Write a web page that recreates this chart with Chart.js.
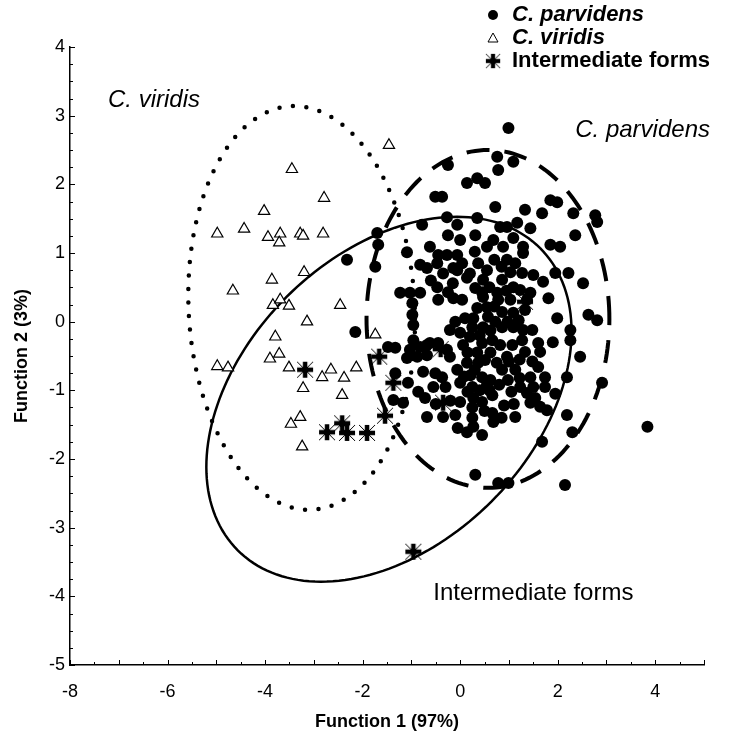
<!DOCTYPE html>
<html>
<head>
<meta charset="utf-8">
<title>Discriminant scores</title>
<script src="https://cdn.jsdelivr.net/npm/chart.js@4.4.1/dist/chart.umd.min.js"></script>
<style>
  html, body { margin: 0; padding: 0; background: #fff; }
  #wrap { width: 740px; height: 741px; }
</style>
</head>
<body>
<div id="wrap"><canvas id="grafik" width="740" height="741"></canvas></div>
<script>
// Scores on the two discriminant functions

// C. parvidens (filled circles)
const parvidensX = [0.99,0.76,1.09,0.78,-0.25,0.14,0.35,0.51,-0.51,-0.37,
  0.72,-0.27,0.35,-0.78,-0.06,-0.25,0.31,0.00,0.68,1.09,
  -1.70,-1.68,-0.62,0.96,1.17,1.85,1.99,1.33,1.68,2.32,
  2.77,2.81,0.82,1.44,2.36,1.85,2.05,0.88,1.29,-1.09,
  -0.45,-0.27,-0.06,1.29,0.96,1.13,-0.82,-0.68,-0.14,0.04,
  0.37,0.55,1.03,0.14,0.47,0.86,1.27,-0.47,0.31,0.76,
  1.09,-1.23,-1.03,-0.82,-0.25,-0.14,-0.98,-0.45,0.04,0.47,
  1.03,1.37,-0.98,0.10,0.27,0.57,0.86,1.09,1.33,-0.96,
  0.25,0.47,-0.21,0.86,1.09,1.29,1.48,-0.68,-0.45,-0.27,
  0.06,0.45,0.66,0.82,1.07,1.27,1.60,1.33,1.64,0.96,
  -0.76,-0.51,-0.37,-0.06,0.14,0.37,0.51,0.21,0.45,0.62,
  0.86,1.13,1.60,1.74,0.00,0.25,0.55,1.23,1.37,1.54,
  1.74,-0.72,0.00,0.27,0.45,0.66,1.44,1.64,1.78,-0.68,
  -0.35,-0.10,0.25,0.66,0.68,1.13,0.27,-1.07,-1.37,-1.17,
  -0.86,0.14,2.19,2.91,2.30,1.68,3.84,0.31,0.78,0.99,
  2.15,1.50,1.70,1.95,2.22,2.52,1.23,1.44,1.81,2.63,
  2.81,1.99,2.26,2.26,2.46,2.19,1.44,-2.32,-1.74,-2.15,
  -0.96,-1.33,-1.48,-1.03,-0.82,-0.62,-1.09,-0.88,-0.68,-1.33,
  -0.21,-0.47,-0.06,0.55,0.45,0.55,0.78,
  0.15,0.35,0.62,0.75,0.30,0.08,0.40,0.60,0.15,0.80,
  0.98,1.05,0.90,1.10,0.50,0.85,1.00,1.22,1.48,1.50,
  1.22,0.20,0.40,0.62,0.72,0.97,1.20,0.00,-0.10,0.35,
  0.70,0.95,0.60,0.20,0.70,0.85,0.30,-0.30,-0.55,-0.20,
  -0.50,-0.05,0.45,-0.15,-0.60,-0.35,0.25,1.90,1.95];
const parvidensY = [2.82,2.40,2.33,2.21,2.28,2.02,2.09,2.02,1.82,1.82,
  1.67,1.52,1.51,1.41,1.41,1.26,1.26,1.19,1.19,1.22,
  1.29,1.12,1.09,1.38,1.44,1.77,1.74,1.63,1.58,1.58,
  1.55,1.45,1.38,1.36,1.26,1.12,1.09,1.09,1.09,1.01,
  0.97,0.97,0.97,1.00,0.90,0.85,0.83,0.78,0.78,0.85,
  0.85,0.75,0.72,0.64,0.61,0.61,0.71,0.50,0.49,0.42,
  0.50,0.42,0.42,0.42,0.43,0.34,0.27,0.32,0.32,0.36,
  0.32,0.32,0.10,0.05,0.05,0.07,0.14,0.13,0.17,-0.05,
  -0.08,-0.08,-0.12,-0.08,-0.08,-0.12,-0.12,-0.34,-0.31,-0.41,
  -0.34,-0.31,-0.27,-0.34,-0.34,-0.27,-0.31,-0.44,-0.44,-0.51,
  -0.73,-0.75,-0.81,-0.70,-0.60,-0.60,-0.56,-0.78,-0.81,-0.85,
  -0.70,-0.70,-0.66,-0.81,-0.89,-0.95,-0.92,-0.95,-1.04,-1.11,
  -0.95,-1.11,-1.17,-1.11,-1.17,-1.07,-1.18,-1.24,-1.29,-1.39,
  -1.39,-1.36,-1.40,-1.33,-1.46,-1.39,-1.53,-0.89,-1.14,-1.18,
  -1.02,-1.61,-1.36,-0.89,-1.61,-1.75,-1.53,-2.23,-2.35,-2.35,
  -2.38,0.68,0.58,0.71,0.71,0.56,0.46,0.42,0.34,0.10,
  0.02,0.05,-0.12,-0.27,-0.51,-0.81,-0.81,0.90,0.80,-0.15,
  -0.27,-0.38,-0.37,-0.41,-0.37,-0.31,-0.53,-0.51,-0.49,-0.75,
  -0.51,0.85,0.75,1.09,0.43,0.21,0.32,
  -0.45,-0.45,-0.45,-0.60,-0.70,-0.80,-1.00,-1.00,-1.02,-0.92,
  -0.85,-1.02,-1.22,-1.20,-1.30,-1.40,-0.58,-0.55,-0.58,-0.95,
  -0.82,-0.22,-0.20,-0.13,0.00,0.00,0.02,-0.16,0.00,0.20,
  0.22,0.45,0.50,0.70,0.90,0.80,1.02,-0.95,-0.95,-1.15,
  -1.20,-1.55,-1.65,0.56,0.60,0.70,-1.25,-0.30,-1.05];

// C. viridis (open triangles)
const viridisX = [-1.46,-3.45,-2.79,-4.02,-4.98,-4.43,-3.94,-3.69,-3.71,-3.28,
  -3.22,-2.81,-3.20,-3.86,-4.66,-3.84,-3.69,-3.51,-2.46,-3.14,
  -3.79,-1.74,-3.90,-3.71,-4.98,-4.76,-3.51,-3.22,-2.83,-2.65,
  -2.38,-2.13,-2.42,-3.47,-3.28,-3.24];
const viridisY = [2.57,2.22,1.80,1.61,1.28,1.35,1.23,1.28,1.15,1.28,
  1.25,1.28,0.72,0.61,0.45,0.24,0.32,0.23,0.24,0.00,
  -0.22,-0.19,-0.54,-0.47,-0.65,-0.67,-0.67,-0.97,-0.81,-0.70,
  -0.82,-0.67,-1.07,-1.49,-1.39,-1.82];

// Intermediate forms (asterisks)
const araFormX = [-3.18,-1.66,-1.37,-1.54,-2.42,-2.73,-2.32,-1.91,-0.35,-0.96,1.33,-0.40];
const araFormY = [-0.70,-0.51,-0.89,-1.37,-1.48,-1.61,-1.62,-1.62,-1.18,-3.35,0.29,-0.40];

// group ellipses: centre and two conjugate half-axes, in function units
const viridisCenter = [-3.25, 0.20];
const viridisAxisA = [2.32, 0];
const viridisAxisB = [-0.15, 2.94];
const parvidensCenter = [0.57, 0.04];
const parvidensAxisA = [2.49, 0];
const parvidensAxisB = [0, 2.46];
const araFormCenter = [-1.46, -1.13];
const araFormAxisA = [3.10, 2.20];
const araFormAxisB = [-2.10, 1.49];

// axes
const xTickValues = [-8, -6, -4, -2, 0, 2, 4];
const yTickValues = [-5, -4, -3, -2, -1, 0, 1, 2, 3, 4];

const etiketler = ["C. parvidens", "C. viridis", "Intermediate forms"];

const FONT = "'Liberation Sans', Arial, sans-serif";

function noktalar(xs, ys) {
  return xs.map((v, i) => ({ x: v, y: ys[i] }));
}

// asterisk marker: heavy cross with thin diagonals
function yildizYap(size) {
  const c = document.createElement("canvas");
  c.width = size;
  c.height = size;
  const g = c.getContext("2d");
  const m = size / 2;
  g.strokeStyle = "#000";
  g.lineWidth = 1;
  g.beginPath();
  g.moveTo(2, 2); g.lineTo(size - 2, size - 2);
  g.moveTo(size - 2, 2); g.lineTo(2, size - 2);
  g.stroke();
  g.lineWidth = 4.5;
  g.beginPath();
  g.moveTo(m, 2); g.lineTo(m, size - 2);
  g.moveTo(2, m); g.lineTo(size - 2, m);
  g.stroke();
  return c;
}
const yildiz = yildizYap(20);

function elipsCiz(chart, center, a, b, stil) {
  const { ctx, scales: { x, y } } = chart;
  ctx.save();
  ctx.beginPath();
  for (let i = 0; i <= 360; i += 2) {
    const t = i * Math.PI / 180;
    const vx = center[0] + a[0] * Math.cos(t) + b[0] * Math.sin(t);
    const vy = center[1] + a[1] * Math.cos(t) + b[1] * Math.sin(t);
    const px = x.getPixelForValue(vx);
    const py = y.getPixelForValue(vy);
    if (i === 0) ctx.moveTo(px, py); else ctx.lineTo(px, py);
  }
  ctx.strokeStyle = "#000";
  ctx.lineWidth = stil.width;
  ctx.lineCap = stil.cap || "butt";
  ctx.setLineDash(stil.dash || []);
  ctx.stroke();
  ctx.restore();
}

const elipsPlugin = {
  id: "elipsler",
  beforeDatasetsDraw(chart) {
    elipsCiz(chart, viridisCenter, viridisAxisA, viridisAxisB, { width: 4.5, cap: "round", dash: [0, 13.5] });
    elipsCiz(chart, parvidensCenter, parvidensAxisA, parvidensAxisB, { width: 4, dash: [23, 15] });
    elipsCiz(chart, araFormCenter, araFormAxisA, araFormAxisB, { width: 2.5 });
  }
};

// inward tick marks on both axes
const tikPlugin = {
  id: "tikler",
  afterDraw(chart) {
    const { ctx, chartArea, scales: { x, y } } = chart;
    ctx.save();
    ctx.strokeStyle = "#000";
    ctx.lineWidth = 1;
    ctx.beginPath();
    for (let v = x.min; v <= x.max + 1e-6; v += 0.5) {
      const px = Math.round(x.getPixelForValue(v)) + 0.5;
      const len = Number.isInteger(v) ? 5 : 3;
      ctx.moveTo(px, chartArea.bottom);
      ctx.lineTo(px, chartArea.bottom - len);
    }
    for (let v = y.min; v <= y.max + 1e-6; v += 0.25) {
      const py = Math.round(y.getPixelForValue(v)) + 0.5;
      const len = Number.isInteger(v) ? 5 : 3;
      ctx.moveTo(chartArea.left, py);
      ctx.lineTo(chartArea.left + len, py);
    }
    ctx.stroke();
    ctx.restore();
  }
};

// group labels inside the plot and the legend box at the top right
const yaziPlugin = {
  id: "yazilar",
  afterDraw(chart) {
    const { ctx, scales: { x, y } } = chart;
    ctx.save();
    ctx.fillStyle = "#000";
    ctx.textBaseline = "middle";
    ctx.textAlign = "left";

    ctx.font = "italic 24px " + FONT;
    ctx.fillText("C. viridis", x.getPixelForValue(-7.22), y.getPixelForValue(3.23));
    ctx.fillText("C. parvidens", x.getPixelForValue(2.36), y.getPixelForValue(2.79));
    ctx.font = "24px " + FONT;
    ctx.fillText("Intermediate forms", x.getPixelForValue(-0.55), y.getPixelForValue(-3.95));

    // legend
    const mx = 493, tx = 512;
    const satir = [15, 38, 61];
    ctx.beginPath();
    ctx.arc(mx, satir[0], 5, 0, Math.PI * 2);
    ctx.fill();
    ctx.beginPath();
    ctx.moveTo(mx - 5, satir[1] + 4);
    ctx.lineTo(mx + 5, satir[1] + 4);
    ctx.lineTo(mx, satir[1] - 5);
    ctx.closePath();
    ctx.lineWidth = 1;
    ctx.strokeStyle = "#000";
    ctx.stroke();
    ctx.drawImage(yildiz, mx - 9, satir[2] - 9, 18, 18);

    ctx.font = "italic bold 22px " + FONT;
    ctx.fillText(etiketler[0], tx, satir[0]);
    ctx.fillText(etiketler[1], tx, satir[1]);
    ctx.font = "bold 22px " + FONT;
    ctx.fillText(etiketler[2], tx, satir[2]);
    ctx.restore();
  }
};

const grafik = new Chart(document.getElementById("grafik"), {
  type: "scatter",
  data: {
    datasets: [
      {
        label: etiketler[0],
        data: noktalar(parvidensX, parvidensY),
        pointStyle: "circle",
        pointRadius: 6,
        backgroundColor: "#000",
        borderColor: "#000",
        borderWidth: 0
      },
      {
        label: etiketler[1],
        data: noktalar(viridisX, viridisY),
        pointStyle: "triangle",
        pointRadius: 6.5,
        backgroundColor: "#fff",
        borderColor: "#000",
        borderWidth: 1.2
      },
      {
        label: etiketler[2],
        data: noktalar(araFormX, araFormY),
        pointStyle: yildiz,
        pointRadius: 10
      }
    ]
  },
  options: {
    responsive: false,
    animation: false,
    events: [],
    layout: { padding: { top: 47, right: 36, left: 0, bottom: 0 } },
    plugins: {
      legend: { display: false },
      tooltip: { enabled: false }
    },
    scales: {
      x: {
        type: "linear",
        min: -8,
        max: 5,
        afterBuildTicks: s => { s.ticks = xTickValues.map(v => ({ value: v })); },
        afterFit: s => { s.height = 76; },
        grid: { display: false, drawTicks: false },
        border: { display: true, color: "#000", width: 1.5 },
        ticks: { color: "#000", padding: 16, font: { family: FONT, size: 18 } },
        title: {
          display: true,
          text: "Function 1 (97%)",
          color: "#000",
          padding: { top: 0, bottom: 8 },
          font: { family: FONT, size: 18, weight: "bold" }
        }
      },
      y: {
        type: "linear",
        min: -5,
        max: 4,
        afterBuildTicks: s => { s.ticks = yTickValues.map(v => ({ value: v })); },
        afterFit: s => { s.width = 70; },
        grid: { display: false, drawTicks: false },
        border: { display: true, color: "#000", width: 1.5 },
        ticks: { color: "#000", padding: 5, font: { family: FONT, size: 18 } },
        title: {
          display: true,
          text: "Function 2 (3%)",
          color: "#000",
          padding: { top: 11, bottom: 0 },
          font: { family: FONT, size: 18, weight: "bold" }
        }
      }
    }
  },
  plugins: [elipsPlugin, tikPlugin, yaziPlugin]
});
</script>
</body>
</html>
